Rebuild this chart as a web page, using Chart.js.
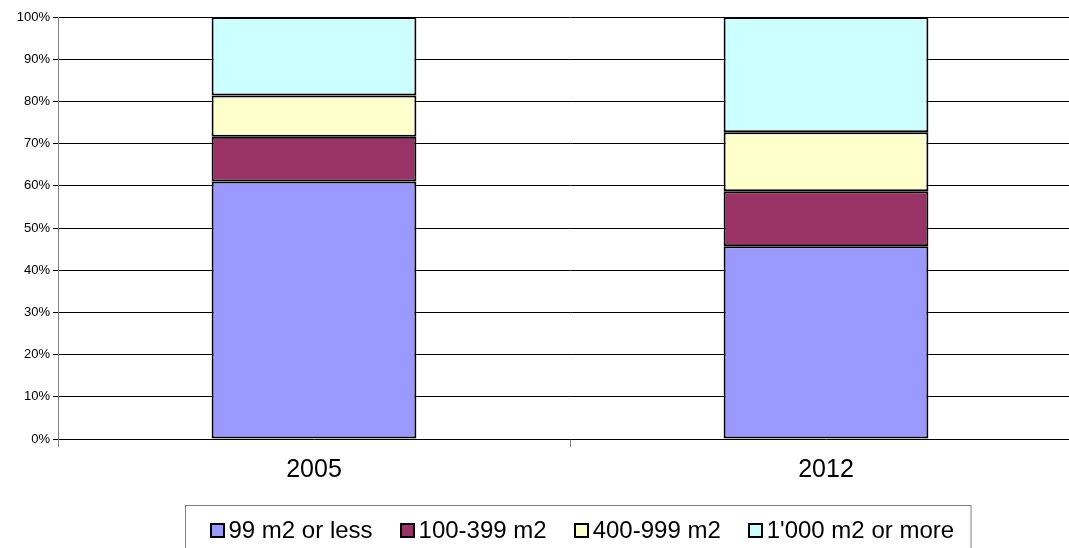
<!DOCTYPE html>
<html>
<head>
<meta charset="utf-8">
<script src="https://cdn.jsdelivr.net/npm/chart.js@4"></script>
<style>
    html, body { margin: 0; padding: 0; background: #fff; overflow: hidden; }
    #wrap { position: absolute; left: 0; top: 0; width: 1095px; height: 548px; }
</style>
</head>
<body>
<div id="wrap"><canvas id="areaChart"></canvas></div>
<script>
const years = ['2005', '2012'];
const sizeLabels = ['99 m2 or less', '100-399 m2', '400-999 m2', "1'000 m2 or more"];
const upTo99 = [61.0, 45.7];
const from100to399 = [10.6, 13.0];
const from400to999 = [9.8, 14.0];
const over1000 = [18.6, 27.3];
const yTicks = [0, 10, 20, 30, 40, 50, 60, 70, 80, 90, 100];

const colors = ['#9999FF', '#993366', '#FFFFCC', '#CCFFFF'];

// legend drawn in a box under the axis, like the spreadsheet original
const boxLegend = {
    id: 'boxLegend',
    afterDraw(chart) {
        const ctx = chart.ctx;
        const sets = chart.data.datasets;
        ctx.save();
        ctx.font = '24px Arial, "Liberation Sans", sans-serif';
        const sq = 13, gapSq = 5, gapItem = 28, padL = 25, padR = 17;
        let total = padL + padR;
        const widths = sets.map(ds => ctx.measureText(ds.label).width);
        widths.forEach((w, i) => { total += sq + gapSq + w + (i ? gapItem : 0); });
        const cx = (chart.chartArea.left + chart.chartArea.right) / 2 + 8;
        const left = Math.round(cx - total / 2) + 0.5;
        const top = 505.5;
        ctx.strokeStyle = '#808080';
        ctx.lineWidth = 1;
        ctx.strokeRect(left, top, total, 60);
        let x = left + padL;
        const midY = 530;
        ctx.textBaseline = 'middle';
        sets.forEach((ds, i) => {
            ctx.fillStyle = ds.backgroundColor;
            ctx.fillRect(Math.round(x), midY - 6, sq, sq);
            ctx.strokeStyle = '#000';
            ctx.lineWidth = 2;
            ctx.strokeRect(Math.round(x), midY - 6, sq, sq);
            ctx.fillStyle = '#000';
            ctx.fillText(ds.label, x + sq + gapSq, midY + 1);
            x += sq + gapSq + widths[i] + gapItem;
        });
        ctx.restore();
    }
};

const seriesData = [upTo99, from100to399, from400to999, over1000];

new Chart(document.getElementById('areaChart').getContext('2d'), {
    type: 'bar',
    data: {
        labels: years,
        datasets: sizeLabels.map((name, i) => ({
            label: name,
            data: seriesData[i],
            backgroundColor: colors[i],
            borderColor: '#000',
            borderWidth: 2,
            borderSkipped: false,
            barPercentage: 0.4,
            categoryPercentage: 1
        }))
    },
    options: {
        responsive: true,
        maintainAspectRatio: false,
        animation: false,
        layout: { padding: { top: 17, right: 13, bottom: 55, left: 0 } },
        plugins: {
            legend: { display: false },
            tooltip: { enabled: false }
        },
        scales: {
            x: {
                stacked: true,
                offset: true,
                grid: { offset: true, drawOnChartArea: false, tickLength: 8, color: '#808080' },
                border: { display: false },
                ticks: {
                    color: '#000',
                    padding: 8,
                    font: { family: 'Arial, "Liberation Sans", sans-serif', size: 25 }
                }
            },
            y: {
                stacked: true,
                min: 0,
                max: 100,
                afterBuildTicks(scale) { scale.ticks = yTicks.map(v => ({ value: v })); },
                afterFit(scale) { scale.width = 58; },
                grid: { color: '#000', tickLength: 5 },
                border: { color: '#808080' },
                ticks: {
                    color: '#000',
                    padding: 3,
                    font: { family: 'Arial, "Liberation Sans", sans-serif', size: 13 },
                    callback: v => v + '%'
                }
            }
        }
    },
    plugins: [boxLegend]
});
</script>
</body>
</html>
